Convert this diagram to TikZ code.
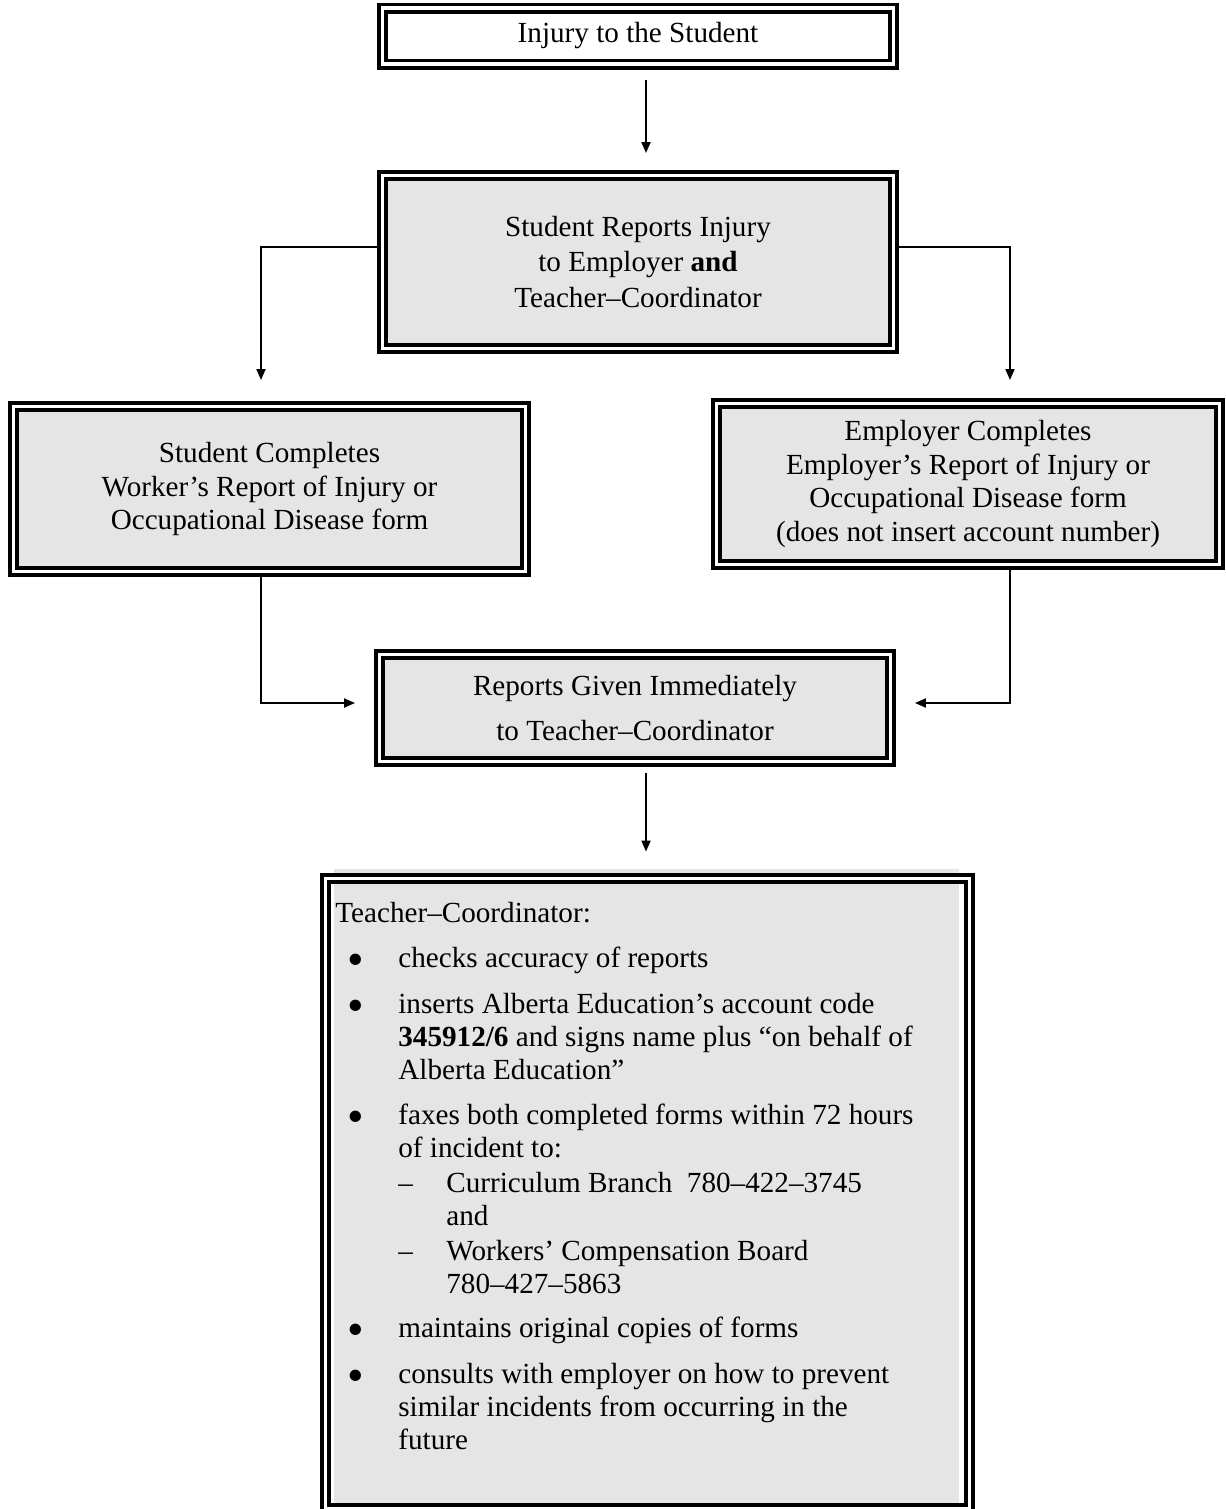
\documentclass[tikz,border=0pt]{standalone}
\usepackage{fontspec}
\setmainfont{Liberation Serif}
\usetikzlibrary{positioning}
\usetikzlibrary{arrows.meta}
\usetikzlibrary{calc}
\definecolor{boxgray}{RGB}{229,229,229}

\begin{document}
\begin{tikzpicture}[x=0.02cm, y=-0.02cm,
  frame/.style={draw, double=white, line width=0.075cm, double distance=0.07cm,
    inner sep=0pt, outer sep=0pt, fill=boxgray, align=center,
    font=\fontsize{16.6}{19.1}\selectfont},
  conn/.style={line width=0.04cm, -{Triangle[length=0.22cm, width=0.18cm]}},
  txt/.style={anchor=base west, inner sep=0pt, font=\fontsize{16.6}{18.8}\selectfont},
  bul/.style={anchor=base, inner sep=0pt, font=\fontsize{27}{27}\selectfont}]
\useasboundingbox (0,0) rectangle (1225,1509);

\node[frame, fill=white, minimum width=10.22cm, minimum height=1.12cm] (injury) at (638,36) {Injury to the Student};
\node[frame, minimum width=10.22cm, minimum height=3.46cm, font=\fontsize{16.6}{20.4}\selectfont] (reports) at (638,262)
  {Student Reports Injury\\to Employer \textbf{and}\\Teacher–Coordinator};
\node[frame, minimum width=10.24cm, minimum height=3.30cm] (student) at (269.5,489)
  {Student Completes\\Worker’s Report of Injury or\\Occupational Disease form};
\node[frame, minimum width=10.06cm, minimum height=3.22cm] (employer) at (968,484)
  {Employer Completes\\Employer’s Report of Injury or\\Occupational Disease form\\(does not insert account number)};
\node[frame, minimum width=10.22cm, minimum height=2.14cm] (given) at (635,708)
  {Reports Given Immediately\\[0.21cm] to Teacher–Coordinator};

%\fill[boxgray] below the last frame
\fill[boxgray] (334,869) rectangle (959,1509);
\node[frame, fill=none, minimum width=12.88cm, minimum height=12.6cm] (tc) at (647.5,1193.5) {};

\draw[conn] ($(injury.south)+(8,16)$) -- ($(reports.north)+(8,-22.5)$);
\draw[conn] ($(reports.west)+(-5.5,-15)$) -| ($(student.north)+(-8.5,-26.5)$);
\draw[conn] ($(reports.east)+(5.5,-15)$) -| ($(employer.north)+(42,-23.5)$);
\draw[conn] ($(student.south)+(-8.5,5.5)$) |- ($(given.west)+(-24.5,-5)$);
\draw[conn] ($(employer.south)+(42,5.5)$) |- ($(given.east)+(24.5,-5)$);
\draw[conn] ($(given.south)+(11,11)$) -- ($(tc.north)+(-1.5,-27)$);

\node[txt] (tchead) at (335,922) {Teacher–Coordinator:};
\node[bul] (bul1) at (356,975) {\textbullet};
\node[txt] (item1) at (398,967) {checks accuracy of reports};
\node[bul] (bul2) at (356,1021) {\textbullet};
\node[txt] (item2) at (398,1013) {\begin{tabular}[t]{@{}l@{}}inserts Alberta Education’s account code\\
  \textbf{345912/6} and signs name plus “on behalf of\\Alberta Education”\end{tabular}};
\node[bul] (bul3) at (356,1132) {\textbullet};
\node[txt] (item3) at (398,1124) {\begin{tabular}[t]{@{}l@{}}faxes both completed forms within 72 hours\\of incident to:\end{tabular}};
\node[txt] (dash1) at (398,1192) {–};
\node[txt] (sub1) at (446,1192) {\begin{tabular}[t]{@{}l@{}}Curriculum Branch\ \ 780–422–3745\\and\end{tabular}};
\node[txt] (dash2) at (398,1260) {–};
\node[txt] (sub2) at (446,1260) {\begin{tabular}[t]{@{}l@{}}Workers’ Compensation Board\\780–427–5863\end{tabular}};
\node[bul] (bul4) at (356,1345) {\textbullet};
\node[txt] (item4) at (398,1337) {maintains original copies of forms};
\node[bul] (bul5) at (356,1391) {\textbullet};
\node[txt] (item5) at (398,1383) {\begin{tabular}[t]{@{}l@{}}consults with employer on how to prevent\\
  similar incidents from occurring in the\\future\end{tabular}};

\end{tikzpicture}
\end{document}
